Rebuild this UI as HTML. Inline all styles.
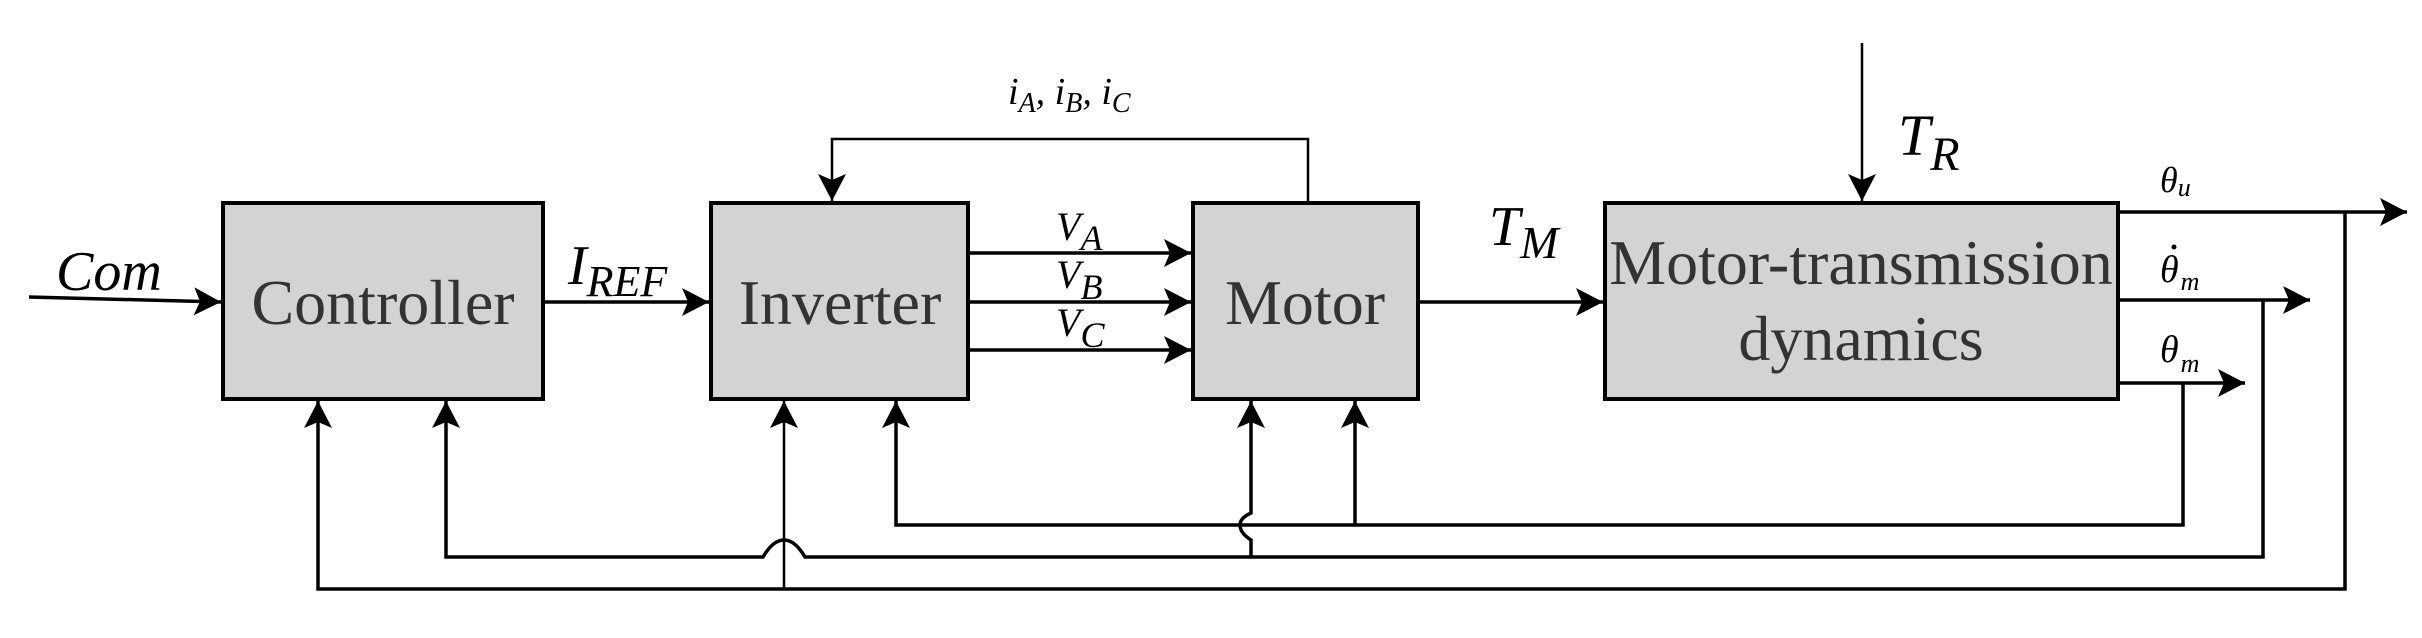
<!DOCTYPE html>
<html><head><meta charset="utf-8"><style>
html,body{margin:0;padding:0;background:#fff;}
svg{display:block;}
.l{stroke:#000;stroke-width:3.5;fill:none;}
.t{stroke:#000;stroke-width:2.5;fill:none;}
.b{fill:#d3d3d3;stroke:#000;stroke-width:4;}
.bt{font-family:"Liberation Serif",serif;fill:#333;font-size:64px;}
.i{font-family:"Liberation Serif",serif;font-style:italic;fill:#000;}
</style></head><body>
<svg width="2422" height="638" viewBox="0 0 2422 638" xmlns="http://www.w3.org/2000/svg">
<defs>
<marker id="a" markerWidth="30" markerHeight="30" refX="27" refY="14" orient="auto" markerUnits="userSpaceOnUse">
<path d="M0,0 L27,14 L0,28 L6,14 Z" fill="#000"/>
</marker>
</defs>
<rect class="b" x="223" y="203" width="320" height="196"/>
<rect class="b" x="711" y="203" width="257" height="196"/>
<rect class="b" x="1193" y="203" width="225" height="196"/>
<rect class="b" x="1605" y="203" width="513" height="196"/>
<text class="bt" x="383" y="324" text-anchor="middle">Controller</text>
<text class="bt" x="840" y="324" text-anchor="middle">Inverter</text>
<text class="bt" x="1305" y="324" text-anchor="middle">Motor</text>
<text class="bt" x="1861" y="284" text-anchor="middle">Motor-transmission</text>
<text class="bt" x="1861" y="360" text-anchor="middle">dynamics</text>
<path class="l" d="M29,297 L221,302" marker-end="url(#a)"/>
<path class="l" d="M543,302 L709,302" marker-end="url(#a)"/>
<path class="l" d="M968,253 L1191,253" marker-end="url(#a)"/>
<path class="l" d="M968,302 L1191,302" marker-end="url(#a)"/>
<path class="l" d="M968,350 L1191,350" marker-end="url(#a)"/>
<path class="l" d="M1418,302 L1603,302" marker-end="url(#a)"/>
<path class="t" d="M1862,43 L1862,201" marker-end="url(#a)"/>
<path class="t" d="M1308,203 L1308,139 L832,139 L832,201" marker-end="url(#a)"/>
<path class="l" d="M2118,212 L2407,212" marker-end="url(#a)"/>
<path class="l" d="M2118,300 L2310,300" marker-end="url(#a)"/>
<path class="l" d="M2118,383 L2245,383" marker-end="url(#a)"/>
<path class="l" d="M2183,383 L2183,525 L896,525 L896,401" marker-end="url(#a)"/>
<path class="l" d="M1355,525 L1355,401" marker-end="url(#a)"/>
<path class="l" d="M2263,300 L2263,557 L805,557 Q795,540 784,540 Q773,540 763,557 L446,557 L446,401" marker-end="url(#a)"/>
<path class="l" d="M2345,212 L2345,589 L318,589 L318,401" marker-end="url(#a)"/>
<path class="t" d="M784,589 L784,401" marker-end="url(#a)"/>
<path class="l" d="M1251,557 L1251,540 Q1240,533 1240,525 Q1240,518 1251,513 L1251,401" marker-end="url(#a)"/>
<text class="i" x="56" y="290" font-size="56">Com</text>
<text class="i" x="568" y="284" font-size="56">I<tspan font-size="44" dy="12">REF</tspan></text>
<text class="i" x="1056" y="240" font-size="40">V<tspan font-size="36" dy="10">A</tspan></text>
<text class="i" x="1056" y="288" font-size="40">V<tspan font-size="36" dy="11">B</tspan></text>
<text class="i" x="1056" y="336" font-size="40">V<tspan font-size="36" dy="11">C</tspan></text>
<text class="i" x="1008" y="104" font-size="38">i<tspan font-size="28" dy="8">A</tspan><tspan dy="-8">, i</tspan><tspan font-size="28" dy="8">B</tspan><tspan dy="-8">, i</tspan><tspan font-size="28" dy="8">C</tspan></text>
<text class="i" x="1489" y="245" font-size="56">T<tspan font-size="46" dy="13">M</tspan></text>
<text class="i" x="1898" y="155" font-size="58">T<tspan font-size="48" dy="15">R</tspan></text>
<text class="i" x="2160" y="192" font-size="36">θ<tspan font-size="26" dy="4">u</tspan></text>
<text class="i" x="2160" y="282" font-size="38">θ<tspan font-size="26" dy="8" dx="2">m</tspan></text>
<circle cx="2174" cy="247" r="2.5" fill="#000"/>
<text class="i" x="2160" y="362" font-size="38">θ<tspan font-size="26" dy="10" dx="2">m</tspan></text>
</svg>
</body></html>
